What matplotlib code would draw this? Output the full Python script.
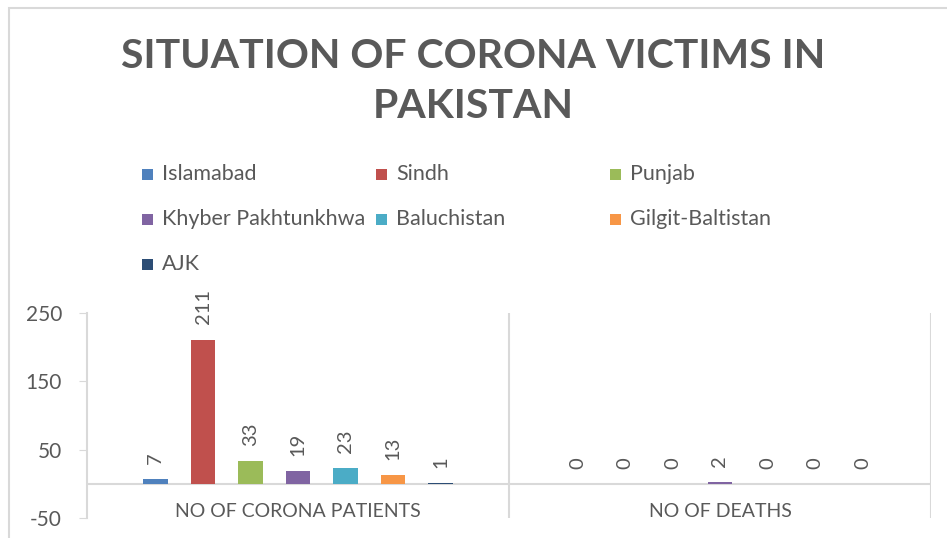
import matplotlib
matplotlib.use("Agg")
import matplotlib.pyplot as plt
from matplotlib.patches import Rectangle
import numpy as np

categories = ["NO OF CORONA PATIENTS", "NO OF DEATHS"]
provinces = ["Islamabad", "Sindh", "Punjab", "Khyber Pakhtunkhwa",
             "Baluchistan", "Gilgit-Baltistan", "AJK"]
patients = [7, 211, 33, 19, 23, 13, 1]
deaths = [0, 0, 0, 2, 0, 0, 0]
colors = ["#4f81bd", "#c0504d", "#9bbb59", "#8064a2",
          "#4bacc6", "#f79646", "#2c4d75"]
yticks = [-50, 50, 150, 250]

plt.rcParams['font.family'] = ['Lato', 'DejaVu Sans']
plt.rcParams['axes.unicode_minus'] = False
txt = "#595959"
grid = "#d9d9d9"

W, H = 947, 538
fig = plt.figure(figsize=(W / 100, H / 100), dpi=100)

# outer chart frame
fig.patches.append(Rectangle((9 / W, -0.1), 1.2, 1 - 8 / H + 0.1,
                             transform=fig.transFigure, fill=False,
                             edgecolor=grid, linewidth=1.5))

fig.text(0.5, 1 - 57 / H, "SITUATION OF CORONA VICTIMS IN", ha="center",
         va="center", fontsize=29.5, fontweight="bold", color=txt)
fig.text(0.5, 1 - 106 / H, "PAKISTAN", ha="center", va="center",
         fontsize=29.5, fontweight="bold", color=txt)

# legend, laid out as in the original (3 fixed-width columns)
for i, name in enumerate(provinces):
    col, row = i % 3, i // 3
    x = (142 + col * 234) / W
    y = 1 - (174 + row * 45) / H
    fig.patches.append(Rectangle((x, y - 5.5 / H), 11 / W, 11 / H,
                                 transform=fig.transFigure,
                                 facecolor=colors[i], edgecolor="none"))
    fig.text(x + 20 / W, y, name, ha="left", va="center",
             fontsize=15.5, color=txt)

ax = fig.add_axes([87 / W, 1 - 518 / H, 844 / W, 205 / H])
data = np.array([patients, deaths])
step = 0.1125
width = 0.059
for i, name in enumerate(provinces):
    xs = np.arange(len(categories)) + (i - 3) * step
    ax.bar(xs, data[:, i], width=width, color=colors[i], zorder=3)
    for x, v in zip(xs, data[:, i]):
        ax.annotate(str(v), (x, v), xytext=(0, 11), textcoords="offset points",
                    rotation=90, ha="center", va="bottom", fontsize=14.5,
                    color=txt)

ax.set_xlim(-0.5, 1.5)
ax.set_ylim(-50, 250)
ax.set_yticks(yticks)
ax.tick_params(axis="y", length=6, color=grid, labelsize=15, labelcolor=txt,
               pad=12)
ax.set_xticks([])
for s in ["top", "right", "bottom"]:
    ax.spines[s].set_visible(False)
ax.spines["left"].set_color(grid)
ax.spines["left"].set_linewidth(1.5)
ax.axhline(0, color=grid, linewidth=1.5, zorder=2)
ax.axvline(0.5, color=grid, linewidth=1.5, zorder=1)
ax.axvline(1.5, color=grid, linewidth=1.5, zorder=1)
for i, c in enumerate(categories):
    ax.text(i, -40, c, ha="center", va="center", fontsize=14, color=txt)

fig.savefig("out.png", dpi=100)
